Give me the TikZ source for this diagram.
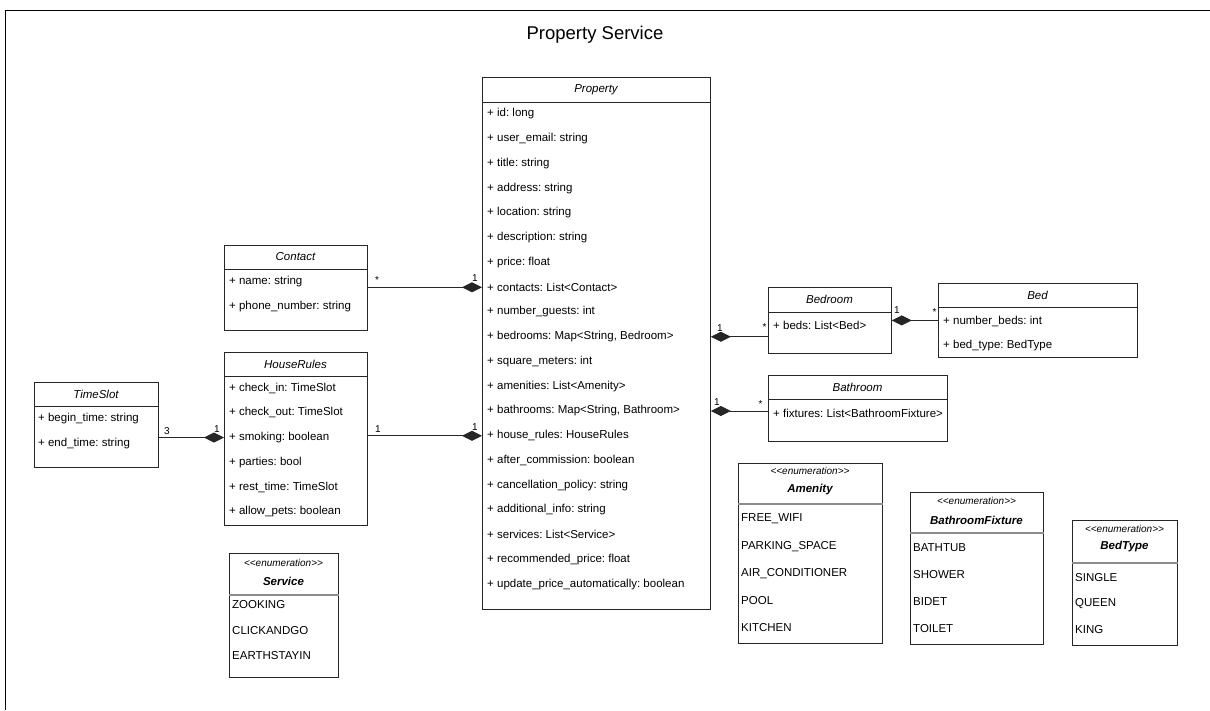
\documentclass[tikz,border=0pt]{standalone}
\usepackage{fontspec}
\setmainfont{Liberation Sans}
\usetikzlibrary{arrows.meta, positioning}

\newcommand{\enumtag}{<\kern0pt<enumeration>\kern0pt>}
\frenchspacing

\begin{document}
\begin{tikzpicture}[x=1pt, y=-1pt,
  cbox/.style={draw=black!85, line width=0.8pt, anchor=north west, inner sep=0pt},
  chead/.style={font=\fontsize{11.5}{13}\selectfont\itshape, inner sep=0pt},
  ehead/.style={font=\fontsize{11.5}{13}\selectfont\bfseries\itshape, inner sep=0pt},
  stereo/.style={font=\fontsize{10}{11}\selectfont\itshape, inner sep=0pt},
  attr/.style={font=\fontsize{11.5}{13}\selectfont, anchor=west, inner sep=0pt},
  sepline/.style={draw=black!85, line width=0.8pt},
  esepline/.style={draw=black!45, line width=2pt},
  comp/.style={draw=black!85, line width=0.8pt, -{Diamond[length=20pt, width=10pt]}},
  mult/.style={font=\fontsize{10}{12}\selectfont, inner sep=1pt}
]
  \useasboundingbox (0,0) rectangle (1210,710);
  \draw[line width=1pt] (5,710) -- (5,10) -- (1210,10);
  \node[font=\fontsize{18.5}{22}\selectfont] (title) at (595,35) {Property Service};

  % Property
  \node[cbox, minimum width=228pt, minimum height=532pt] (property) at (482,77) {};
  \node[chead] (property-name) at (596,89.5) {Property};
  \draw[sepline] ([yshift=-25pt]property.north west) -- ([yshift=-25pt]property.north east);
  \foreach \lbl [count=\i] in {id: long, user\_email: string, title: string, address: string,
      location: string, description: string, price: float, contacts: List<Contact>,
      number\_guests: int, {bedrooms: Map<String, Bedroom>}, square\_meters: int,
      amenities: List<Amenity>, {bathrooms: Map<String, Bathroom>}, house\_rules: HouseRules,
      after\_commission: boolean, cancellation\_policy: string, additional\_info: string,
      services: List<Service>, recommended\_price: float, update\_price\_automatically: boolean}
    \node[attr] (p-\i) at (487,{114+24.75*(\i-1)}) {+ \lbl};

  % Contact
  \node[cbox, minimum width=143pt, minimum height=85pt] (contact) at (224,245) {};
  \node[chead] (contact-name) at (295.5,257) {Contact};
  \draw[sepline] ([yshift=-24pt]contact.north west) -- ([yshift=-24pt]contact.north east);
  \foreach \lbl [count=\i] in {name: string, phone\_number: string}
    \node[attr] (ct-\i) at (229,{282+24.75*(\i-1)}) {+ \lbl};

  % HouseRules
  \node[cbox, minimum width=143pt, minimum height=173pt] (houserules) at (224,352) {};
  \node[chead] (houserules-name) at (295.5,364) {HouseRules};
  \draw[sepline] ([yshift=-24pt]houserules.north west) -- ([yshift=-24pt]houserules.north east);
  \foreach \lbl [count=\i] in {check\_in: TimeSlot, check\_out: TimeSlot, smoking: boolean,
      parties: bool, rest\_time: TimeSlot, allow\_pets: boolean}
    \node[attr] (hr-\i) at (229,{388+24.75*(\i-1)}) {+ \lbl};

  % TimeSlot
  \node[cbox, minimum width=124pt, minimum height=85pt] (timeslot) at (34,382) {};
  \node[chead] (timeslot-name) at (96,394) {TimeSlot};
  \draw[sepline] ([yshift=-24pt]timeslot.north west) -- ([yshift=-24pt]timeslot.north east);
  \foreach \lbl [count=\i] in {begin\_time: string, end\_time: string}
    \node[attr] (ts-\i) at (38,{419+24.75*(\i-1)}) {+ \lbl};

  % Bedroom, Bed, Bathroom
  \node[cbox, minimum width=123pt, minimum height=66pt] (bedroom) at (768,287) {};
  \node[chead] (bedroom-name) at (829.5,299.5) {Bedroom};
  \draw[sepline] ([yshift=-25pt]bedroom.north west) -- ([yshift=-25pt]bedroom.north east);
  \node[attr] (br-1) at (773,325) {+ beds: List<Bed>};

  \node[cbox, minimum width=199pt, minimum height=74pt] (bed) at (938,283) {};
  \node[chead] (bed-name) at (1037.5,295) {Bed};
  \draw[sepline] ([yshift=-24pt]bed.north west) -- ([yshift=-24pt]bed.north east);
  \foreach \lbl [count=\i] in {number\_beds: int, bed\_type: BedType}
    \node[attr] (bd-\i) at (943,{321+24.75*(\i-1)}) {+ \lbl};

  \node[cbox, minimum width=179pt, minimum height=66pt] (bathroom) at (768,375) {};
  \node[chead] (bathroom-name) at (857.5,387) {Bathroom};
  \draw[sepline] ([yshift=-24pt]bathroom.north west) -- ([yshift=-24pt]bathroom.north east);
  \node[attr] (ba-1) at (773,413) {+ fixtures: List<BathroomFixture>};

  % enumerations
  \node[cbox, minimum width=109pt, minimum height=124pt] (service) at (229,553) {};
  \node[stereo] (service-st) at (283.5,563) {\enumtag};
  \node[ehead] (service-name) at (283.5,581) {Service};
  \draw[esepline] ([yshift=-42pt]service.north west) -- ([yshift=-42pt]service.north east);
  \foreach \lbl [count=\i] in {ZOOKING, CLICKANDGO, EARTHSTAYIN}
    \node[attr] (sv-\i) at (232,{605+25.5*(\i-1)}) {\lbl};

  \node[cbox, minimum width=144pt, minimum height=180pt] (amenity) at (738,463) {};
  \node[stereo] (amenity-st) at (810,471) {\enumtag};
  \node[ehead] (amenity-name) at (810,490) {Amenity};
  \draw[esepline] ([yshift=-41pt]amenity.north west) -- ([yshift=-41pt]amenity.north east);
  \foreach \lbl [count=\i] in {FREE\_WIFI, PARKING\_SPACE, AIR\_CONDITIONER, POOL, KITCHEN}
    \node[attr] (am-\i) at (741,{519+27.25*(\i-1)}) {\lbl};

  \node[cbox, minimum width=133pt, minimum height=152pt] (fixture) at (910,492) {};
  \node[stereo] (fixture-st) at (976.5,501) {\enumtag};
  \node[ehead] (fixture-name) at (976.5,520) {BathroomFixture};
  \draw[esepline] ([yshift=-41pt]fixture.north west) -- ([yshift=-41pt]fixture.north east);
  \foreach \lbl [count=\i] in {BATHTUB, SHOWER, BIDET, TOILET}
    \node[attr] (bf-\i) at (913,{548+27*(\i-1)}) {\lbl};

  \node[cbox, minimum width=105pt, minimum height=125pt] (bedtype) at (1072,520) {};
  \node[stereo] (bedtype-st) at (1124.5,529) {\enumtag};
  \node[ehead] (bedtype-name) at (1124.5,547) {BedType};
  \draw[esepline] ([yshift=-43pt]bedtype.north west) -- ([yshift=-43pt]bedtype.north east);
  \foreach \lbl [count=\i] in {SINGLE, QUEEN, KING}
    \node[attr] (bt-\i) at (1075,{578+26*(\i-1)}) {\lbl};

  % compositions
  \draw[comp] (contact.east |- p-8) -- (property.west |- p-8)
    node[mult, pos=0, above right, xshift=6pt, yshift=2pt] (m-ct-a) {*}
    node[mult, pos=1, above left, xshift=-3pt, yshift=4pt] (m-ct-b) {1};
  \draw[comp] (houserules.east |- p-14) -- (property.west |- p-14)
    node[mult, pos=0, above right, xshift=6pt, yshift=2pt] (m-hr-a) {1}
    node[mult, pos=1, above left, xshift=-3pt, yshift=4pt] (m-hr-b) {1};
  \draw[comp] (timeslot.east |- hr-3) -- (houserules.west |- hr-3)
    node[mult, pos=0, above right, xshift=4pt, yshift=2pt] (m-ts-a) {3}
    node[mult, pos=1, above left, xshift=-3pt, yshift=4pt] (m-ts-b) {1};
  \draw[comp] (bedroom.west |- p-10) -- (property.east |- p-10)
    node[mult, pos=0, above left, yshift=5pt] (m-br-a) {*}
    node[mult, pos=1, above right, xshift=5pt, yshift=4pt] (m-br-b) {1};
  \draw[comp] (bathroom.west |- p-13) -- (property.east |- p-13)
    node[mult, pos=0, above left, xshift=-4pt, yshift=2pt] (m-ba-a) {*}
    node[mult, pos=1, above right, xshift=2pt, yshift=4pt] (m-ba-b) {1};
  \draw[comp] (bed.west) -- (bedroom.east |- bed.west)
    node[mult, pos=0, above left, yshift=4pt] (m-bd-a) {*}
    node[mult, pos=1, above right, xshift=1pt, yshift=6pt] (m-bd-b) {1};
\end{tikzpicture}
\end{document}
